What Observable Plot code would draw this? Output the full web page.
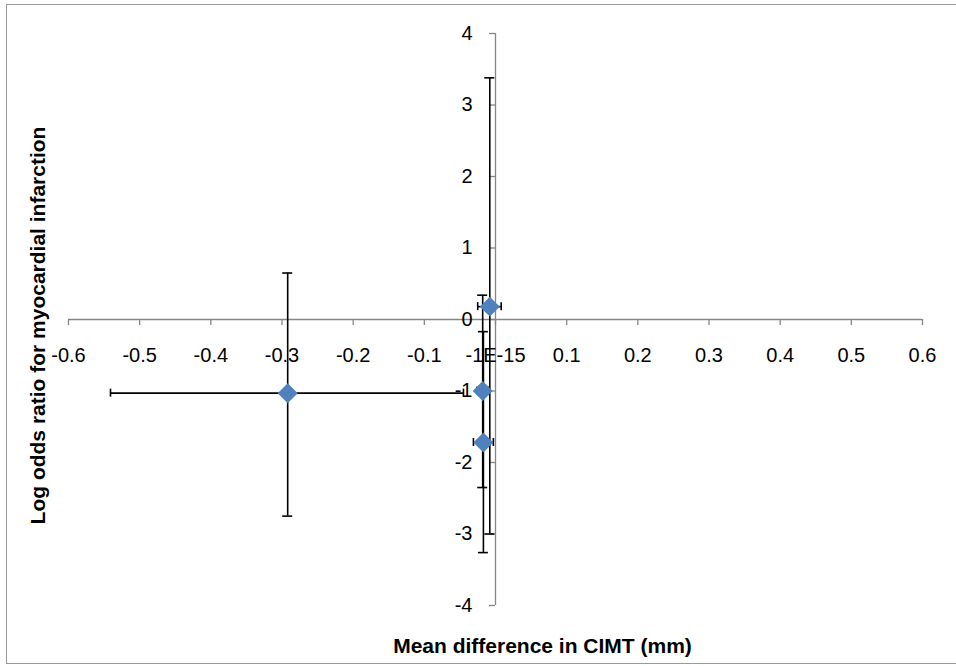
<!DOCTYPE html>
<html><head><meta charset="utf-8">
<script src="https://cdn.jsdelivr.net/npm/d3@7"></script>
<script src="https://cdn.jsdelivr.net/npm/@observablehq/plot@0.6"></script>
<style>
body{margin:0;background:#fff;}
#wrap{position:relative;width:956px;height:666px;overflow:hidden;}
#border{position:absolute;left:6px;top:4px;width:960px;height:660px;border:1px solid #9a9a9a;box-sizing:border-box;pointer-events:none;}
#chart{position:absolute;left:0;top:0;}
</style></head><body>
<div id="wrap"><div id="chart"></div><div id="border"></div></div>
<script>
// Point estimates
const xValues = [-0.292, -0.018, -0.017, -0.008];
const yValues = [-1.03, -1.00, -1.72, 0.18];
// Error bar bounds
const xLow  = [-0.541, -0.026, -0.031, -0.025];
const xHigh = [-0.045, -0.010, -0.003, 0.008];
const yLow  = [-2.75, -2.35, -3.26, -3.00];
const yHigh = [0.65, 0.34, -0.17, 3.38];
// Axis ticks
const xTicks = [-0.6, -0.5, -0.4, -0.3, -0.2, -0.1, 0, 0.1, 0.2, 0.3, 0.4, 0.5, 0.6];
const xTickLabels = ["-0.6","-0.5","-0.4","-0.3","-0.2","-0.1","-1E-15","0.1","0.2","0.3","0.4","0.5","0.6"];
const yTicks = [-4, -3, -2, -1, 0, 1, 2, 3, 4];
const yTickLabels = ["-4","-3","-2","-1","0","1","2","3","4"];
const xTitle = "Mean difference in CIMT (mm)";
const yTitle = "Log odds ratio for myocardial infarction";

const data = xValues.map((x, i) => ({x, y: yValues[i], xl: xLow[i], xh: xHigh[i], yl: yLow[i], yh: yHigh[i]}));
const axisColor = "#868686";
const font = "Liberation Sans, Arial, sans-serif";

const chart = Plot.plot({
  width: 956,
  height: 666,
  marginLeft: 68,
  marginRight: 34,
  marginTop: 33,
  marginBottom: 61,
  style: {fontFamily: font, background: "transparent", overflow: "visible"},
  x: {domain: [-0.6, 0.6], axis: null},
  y: {domain: [-4, 4], axis: null},
  marks: [
    Plot.ruleY([0], {stroke: axisColor, strokeWidth: 1.3}),
    Plot.ruleX([0], {stroke: axisColor, strokeWidth: 1.3}),
    Plot.ruleX(xTicks, {x: d => d, y1: 0, y2: 0, insetBottom: -6, stroke: axisColor, strokeWidth: 1.3}),
    Plot.ruleY(yTicks, {y: d => d, x1: 0, x2: 0, insetLeft: -6, stroke: axisColor, strokeWidth: 1.3}),
    Plot.text(xTicks, {x: d => d, y: 0, text: (d, i) => xTickLabels[i], dy: 36, fontSize: 20, fill: "#000"}),
    Plot.text(yTicks, {x: 0, y: d => d, text: (d, i) => yTickLabels[i], dx: -23, textAnchor: "end", fontSize: 20, fill: "#000"}),
    // error bars
    Plot.ruleY(data, {y: "y", x1: "xl", x2: "xh", stroke: "#000", strokeWidth: 1.6}),
    Plot.ruleX(data, {x: "x", y1: "yl", y2: "yh", stroke: "#000", strokeWidth: 1.6}),
    Plot.ruleX(data, {x: "xl", y1: "y", y2: "y", insetTop: -4, insetBottom: -4, stroke: "#000", strokeWidth: 1.6}),
    Plot.ruleX(data, {x: "xh", y1: "y", y2: "y", insetTop: -4, insetBottom: -4, stroke: "#000", strokeWidth: 1.6}),
    Plot.ruleY(data, {y: "yl", x1: "x", x2: "x", insetLeft: -5, insetRight: -5, stroke: "#000", strokeWidth: 1.6}),
    Plot.ruleY(data, {y: "yh", x1: "x", x2: "x", insetLeft: -5, insetRight: -5, stroke: "#000", strokeWidth: 1.6}),
    // markers
    Plot.dot(data, {x: "x", y: "y", symbol: "diamond2", r: 9, fill: "#4F81BD", stroke: "none"}),
    // axis titles
    Plot.text([yTitle], {frameAnchor: "left", textAnchor: "middle", dx: -30, dy: 6, rotate: -90, fontSize: 21, fontWeight: "bold", fill: "#000"}),
    Plot.text([xTitle], {frameAnchor: "bottom", textAnchor: "middle", dx: 47, dy: 47, fontSize: 21, fontWeight: "bold", fill: "#000"})
  ]
});
document.getElementById("chart").appendChild(chart);
</script>
</body></html>
